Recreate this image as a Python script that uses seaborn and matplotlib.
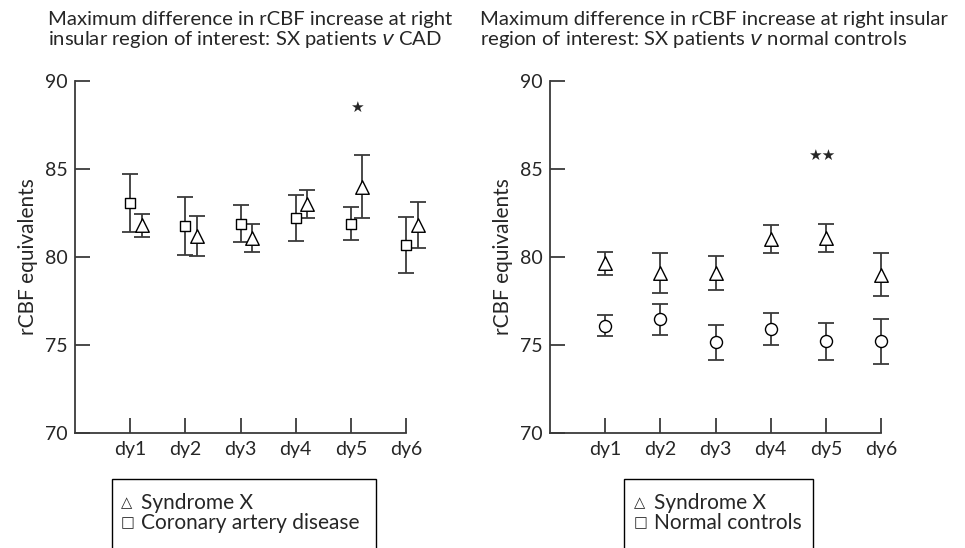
import numpy as np
import pandas as pd
import seaborn as sns
import matplotlib.pyplot as plt
from matplotlib.patches import Rectangle

sns.set_style("ticks")
plt.rcParams['font.family'] = ['Lato', 'DejaVu Sans']

days = ['dy1', 'dy2', 'dy3', 'dy4', 'dy5', 'dy6']

# panel A: SX patients v CAD
sx_a = [81.8, 81.2, 81.1, 83.0, 84.0, 81.8]
sx_a_err = [0.65, 1.15, 0.8, 0.8, 1.8, 1.3]
cad = [83.05, 81.75, 81.9, 82.2, 81.9, 80.7]
cad_err = [1.65, 1.65, 1.05, 1.3, 0.95, 1.6]

# panel B: SX patients v normal controls
sx_b = [79.65, 79.1, 79.1, 81.0, 81.1, 79.0]
sx_b_err = [0.65, 1.15, 0.95, 0.8, 0.8, 1.2]
ctrl = [76.1, 76.45, 75.15, 75.9, 75.2, 75.2]
ctrl_err = [0.6, 0.9, 1.0, 0.9, 1.05, 1.3]

titles = ["Maximum difference in rCBF increase at right\ninsular region of interest: SX patients $\\it{v}$ CAD",
          "Maximum difference in rCBF increase at right insular\nregion of interest: SX patients $\\it{v}$ normal controls"]
legend_sym = ["\u25b3", "\u25a1"]
legend_a = ["Syndrome X", "Coronary artery disease"]
legend_b = ["Syndrome X", "Normal controls"]

axis_col = '#3a3a3a'
fig = plt.figure(figsize=(9.65, 5.48), dpi=100)
ax1 = fig.add_axes([75/965, 1-433/548, 331/965, 352/548])
ax2 = fig.add_axes([550/965, 1-433/548, 331/965, 352/548])

x = np.arange(1, 7)


def draw_group(ax, xs, ys, errs, marker, size):
    ax.errorbar(xs, ys, yerr=errs, fmt='none', ecolor=axis_col, elinewidth=1.3,
                capsize=5.8, capthick=1.3, zorder=2, clip_on=False)
    df = pd.DataFrame({'x': xs, 'y': ys})
    sns.scatterplot(data=df, x='x', y='y', ax=ax, marker=marker, s=size,
                    color='white', edgecolor='black', linewidth=1.0, zorder=3,
                    clip_on=False, legend=False)


draw_group(ax1, x + 0.0, cad, cad_err, 's', 62)
draw_group(ax1, x + 0.21, sx_a, sx_a_err, '^', 95)
draw_group(ax2, x, sx_b, sx_b_err, '^', 95)
draw_group(ax2, x, ctrl, ctrl_err, 'o', 75)

ax1.text(5.11, 88.5, "\u2605", ha='center', va='center', fontsize=11,
         family='DejaVu Sans')
ax2.text(4.93, 85.76, "\u2605\u2605", ha='center', va='center', fontsize=11,
         family='DejaVu Sans')

for ax in (ax1, ax2):
    ax.set_xlim(0, 6)
    ax.set_ylim(70, 90)
    ax.set_xticks(x)
    ax.set_xticklabels(days)
    ax.set_yticks([70, 75, 80, 85, 90])
    ax.set_xlabel('')
    ax.set_ylabel('rCBF equivalents', fontsize=15, labelpad=5)
    sns.despine(ax=ax)
    for s in ('left', 'bottom'):
        ax.spines[s].set_color(axis_col)
        ax.spines[s].set_linewidth(1.3)
    ax.tick_params(direction='in', length=11, width=1.3, color=axis_col,
                   labelsize=14, pad=6)
    ax.tick_params(axis='y', pad=5)

fig.text(48/965, 1-11/548, titles[0], ha='left', va='top', fontsize=14.6,
         linespacing=1.05)
fig.text(480/965, 1-11/548, titles[1], ha='left', va='top', fontsize=14.6,
         linespacing=1.05)

for (x0, x1, tx, labels) in [(112, 376, 121, legend_a), (624, 813, 634, legend_b)]:
    fig.patches.append(Rectangle((x0/965, -0.05), (x1-x0)/965, 0.05+(1-479/548),
                                 transform=fig.transFigure, fill=False,
                                 edgecolor='black', linewidth=1.0))
    for i, yy in enumerate([503, 523]):
        fig.text(tx/965, 1-yy/548, legend_sym[i], ha='left', va='center',
                 fontsize=10.5, family='DejaVu Sans')
        fig.text((tx+20)/965, 1-yy/548, labels[i], ha='left', va='center',
                 fontsize=15)

fig.savefig('out.png', dpi=100)
